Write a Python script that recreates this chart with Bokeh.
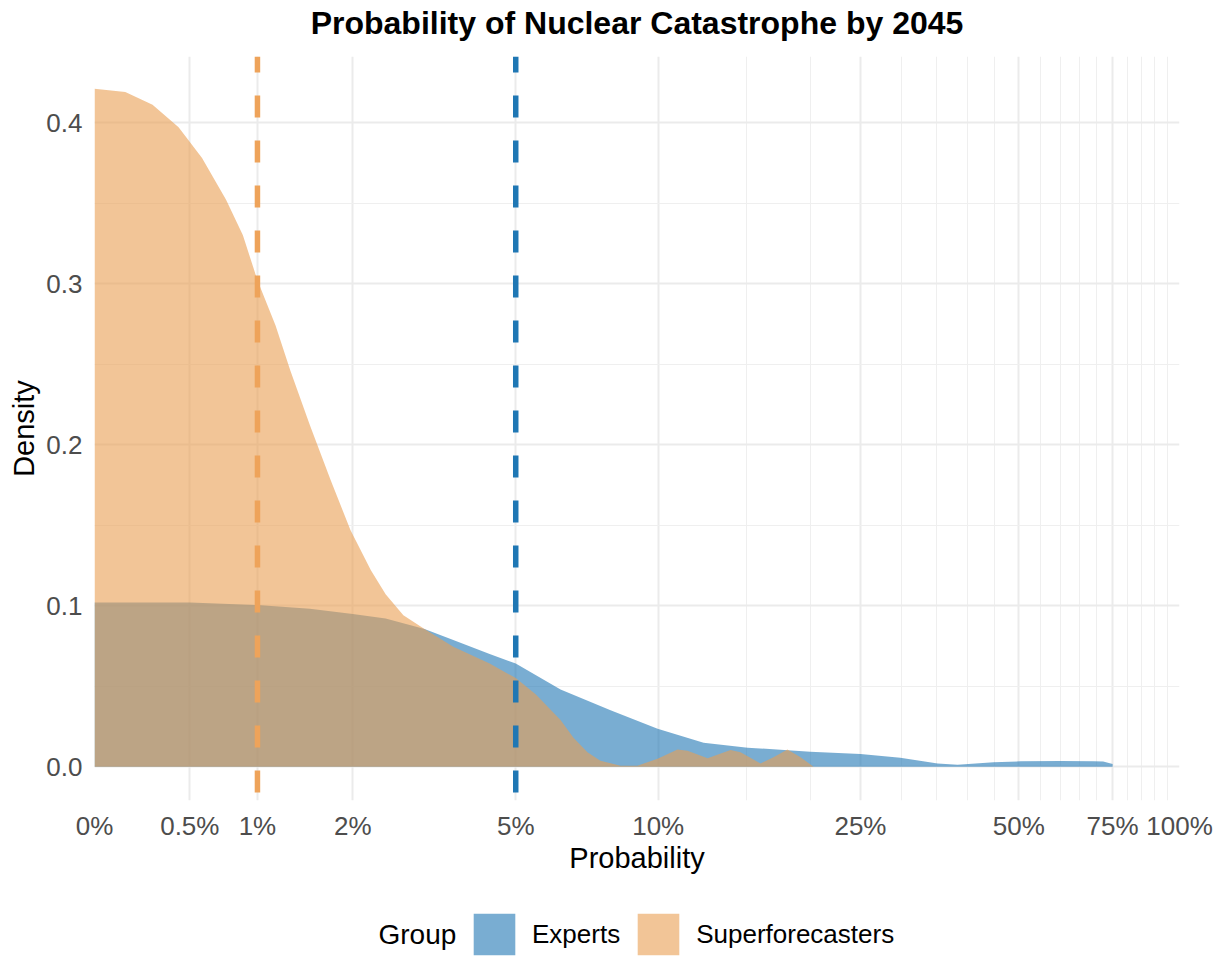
import numpy as np
from bokeh.plotting import figure
from bokeh.layouts import column
from bokeh.models import (FixedTicker, CustomJSTickFormatter, Span, Legend, LegendItem,
                          Range1d, NumeralTickFormatter, Label)
from bokeh.embed import file_html
from bokeh.resources import INLINE

# ---------------- data ----------------
title_text = "Probability of Nuclear Catastrophe by 2045"
legend_title = "Group"
groups = ["Experts", "Superforecasters"]
fill_colors = ["#1F77B4", "#E99E52"]
line_colors = ["#1F77B4", "#EEA35A"]

experts_pct = [0, 0.28, 0.5, 1.0, 1.5, 2.0, 2.45, 3.07, 3.6, 4.37, 5.0, 6.26, 7.98, 9.97,
               12.34, 15.09, 20.0, 25.0, 29.8, 35.1, 38.3, 44.8, 50.4, 59.9, 69.1, 72.0, 75.0]
experts_density = [0.102, 0.102, 0.102, 0.1004, 0.098, 0.0948, 0.092, 0.0855, 0.0786, 0.070,
                   0.064, 0.048, 0.035, 0.0236, 0.0149, 0.0118, 0.0093, 0.0078, 0.0056, 0.0019,
                   0.0012, 0.0027, 0.0033, 0.0035, 0.0033, 0.0032, 0.0017]

super_pct = [0, 0.14, 0.28, 0.43, 0.58, 0.75, 0.88, 1.0, 1.16, 1.3, 1.5, 1.73, 1.97, 2.24,
             2.45, 2.72, 3.07, 3.6, 4.37, 5.0, 5.53, 6.26, 6.67, 7.14, 7.6, 8.37, 9.07, 9.97,
             10.94, 11.46, 12.57, 13.96, 14.61, 16.0, 16.96, 18.06, 19.15, 20.3]
super_density = [0.421, 0.419, 0.411, 0.397, 0.378, 0.352, 0.330, 0.302, 0.274, 0.246, 0.212,
                 0.178, 0.147, 0.122, 0.107, 0.094, 0.0855, 0.0745, 0.064, 0.055, 0.045, 0.029,
                 0.018, 0.0089, 0.0037, 0.0006, 0.0006, 0.005, 0.0106, 0.0099, 0.0052, 0.0104,
                 0.0089, 0.002, 0.0058, 0.0106, 0.0058, 0.0]

medians_pct = [5, 1]

x_tick_pct = [0, 0.5, 1, 2, 5, 10, 25, 50, 75, 100]
x_tick_labels = ["0%", "0.5%", "1%", "2%", "5%", "10%", "25%", "50%", "75%", "100%"]
x_minor_pct = [15, 20, 30, 35, 40, 45, 55, 60, 65, 70, 80, 85, 90, 95]
y_ticks = [0.0, 0.1, 0.2, 0.3, 0.4]
y_minor = [0.05, 0.15, 0.25, 0.35]


def tx(v):
    """log10(1 + x) transform of percentage values (pseudo-log axis)."""
    return [float(t) for t in np.log10(1.0 + np.asarray(v, dtype=float))]


FONT = "Liberation Sans"
LEFT, RIGHT = 94, 47
W = 1226


def strip(height):
    f = figure(width=W, height=height, output_backend="svg", toolbar_location=None,
               x_range=Range1d(LEFT, W - RIGHT), y_range=Range1d(0, height),
               x_axis_location=None, y_axis_location=None,
               min_border_left=LEFT, min_border_right=RIGHT, min_border_top=0,
               min_border_bottom=0)
    f.outline_line_color = None
    f.xgrid.visible = False
    f.ygrid.visible = False
    f.border_fill_color = "white"
    f.background_fill_color = "white"
    return f


# ---------------- title strip ----------------
t = strip(56)
t.add_layout(Label(x=(LEFT + W - RIGHT) / 2, y=34, text=title_text, text_font=FONT,
                   text_font_size="32px", text_font_style="bold", text_color="black",
                   text_align="center", text_baseline="alphabetic"))

# ---------------- main plot ----------------
p = figure(width=W, height=834, output_backend="svg", toolbar_location=None,
           x_range=Range1d(0, tx([100])[0]), y_range=Range1d(-0.021, 0.441),
           min_border_left=LEFT, min_border_right=RIGHT, min_border_top=0,
           min_border_bottom=90)
p.outline_line_color = None
p.background_fill_color = "white"
p.border_fill_color = "white"

# x axis
xt = FixedTicker(ticks=tx(x_tick_pct), minor_ticks=tx(x_minor_pct))
p.xaxis.ticker = xt
p.xgrid.ticker = xt
p.xaxis.formatter = CustomJSTickFormatter(
    args=dict(pos=tx(x_tick_pct), labs=x_tick_labels),
    code="""
    let best = 0, d = Infinity;
    for (let i = 0; i < pos.length; i++) {
        const dd = Math.abs(pos[i] - tick);
        if (dd < d) { d = dd; best = i; }
    }
    return labs[best];
    """)
p.xaxis.axis_label = "Probability"

# y axis
yt = FixedTicker(ticks=y_ticks, minor_ticks=y_minor)
p.yaxis.ticker = yt
p.ygrid.ticker = yt
p.yaxis.formatter = NumeralTickFormatter(format="0.0")
p.yaxis.axis_label = "Density"

for ax in (p.xaxis[0], p.yaxis[0]):
    ax.axis_line_color = None
    ax.major_tick_line_color = None
    ax.minor_tick_line_color = None
    ax.major_tick_out = 0
    ax.minor_tick_out = 0
    ax.major_label_text_font = FONT
    ax.major_label_text_font_size = "26px"
    ax.major_label_text_color = "#4D4D4D"
    ax.axis_label_text_font = FONT
    ax.axis_label_text_font_size = "29px"
    ax.axis_label_text_font_style = "normal"
    ax.axis_label_text_color = "black"
p.xaxis.major_label_standoff = 10
p.xaxis.axis_label_standoff = -2
p.yaxis.major_label_standoff = 12
p.yaxis.axis_label_standoff = 3

for g in (p.xgrid[0], p.ygrid[0]):
    g.grid_line_color = "#EBEBEB"
    g.grid_line_width = 2
    g.minor_grid_line_color = "#EFEFEF"
    g.minor_grid_line_width = 1

# densities
p.varea(x=tx(experts_pct), y1=0, y2=experts_density,
        fill_color=fill_colors[0], fill_alpha=0.6)
p.varea(x=tx(super_pct), y1=0, y2=super_density,
        fill_color=fill_colors[1], fill_alpha=0.6)

# median lines
for m, c in zip(medians_pct, line_colors):
    p.add_layout(Span(location=tx([m])[0], dimension="height", line_color=c,
                      line_width=5.5, line_dash="22 23", line_dash_offset=6))

# ---------------- legend strip ----------------
q = strip(66)

# legend proxies (kept outside the visible range of the strip)
items = []
for name, c in zip(groups, fill_colors):
    r = q.varea(x=[-300, -200], y1=[0, 0], y2=[1, 1], fill_color=c, fill_alpha=0.6)
    items.append(LegendItem(label=name, renderers=[r]))

legend = Legend(items=items, orientation="horizontal", location=(374, -4),
                glyph_width=52, glyph_height=52, label_standoff=12, spacing=12,
                padding=0, margin=0, border_line_color=None, background_fill_alpha=0,
                label_text_font=FONT, label_text_font_size="26px", label_text_color="black",
                label_height=52)
q.add_layout(legend, "center")
q.add_layout(Label(x=378, y=22, text=legend_title, text_font=FONT, text_font_size="28px",
                   text_baseline="middle", text_align="left", text_color="black"))

open("out.html", "w").write(file_html(column(t, p, q, spacing=0), INLINE))
